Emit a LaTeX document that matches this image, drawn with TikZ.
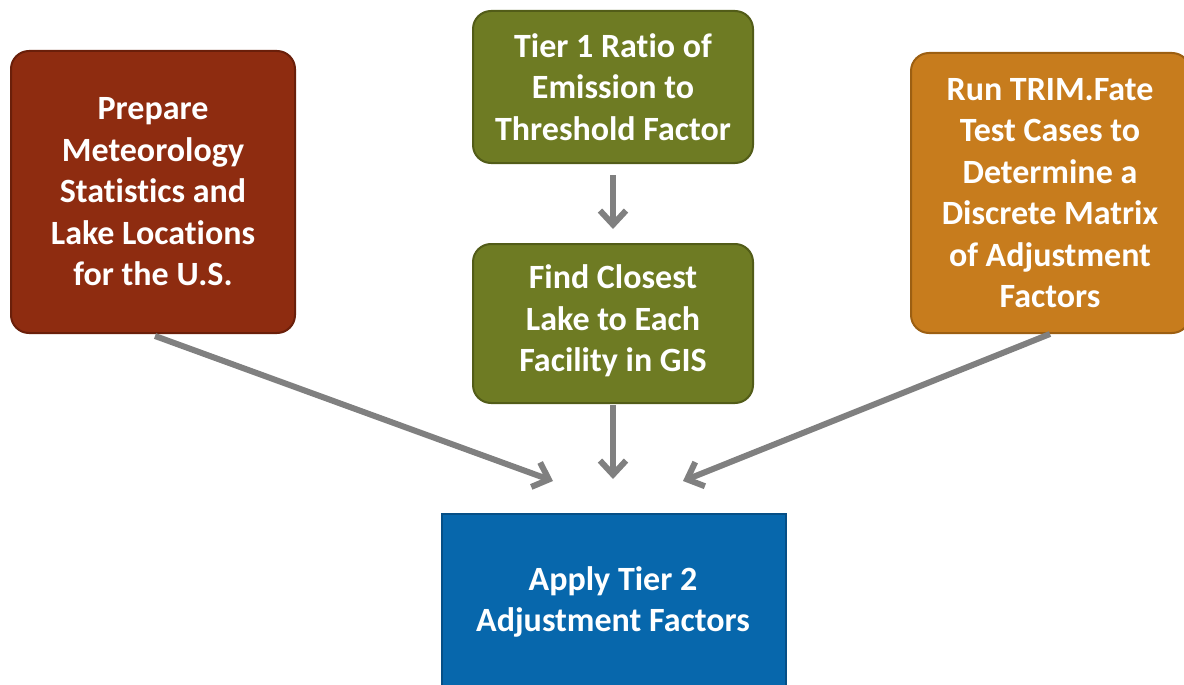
\documentclass[tikz,border=0pt]{standalone}
\usepackage{fontspec}
\setmainfont[Ligatures={NoCommon}]{Carlito}
\usetikzlibrary{arrows.meta}
\definecolor{brick}{HTML}{8E2C10}
\definecolor{brickdark}{HTML}{6A1F0A}
\definecolor{olive}{HTML}{6E7B23}
\definecolor{olivedark}{HTML}{525C18}
\definecolor{amber}{HTML}{C77C1D}
\definecolor{amberdark}{HTML}{9C5F12}
\definecolor{ocean}{HTML}{0767AC}
\definecolor{oceandark}{HTML}{064F86}
\definecolor{arrowgray}{HTML}{808080}
\tikzset{
  box/.style={line width=2pt, inner sep=0pt, align=center, text=white,
    font=\fontsize{34}{41.5}\selectfont\bfseries},
  roundbox/.style={box, rounded corners=18pt},
  flow/.style={draw=arrowgray, line width=6pt,
    -{Straight Barb[length=14pt,width=26pt,line width=6pt]}},
}
\begin{document}
\begin{tikzpicture}[x=1pt,y=-1pt]
\useasboundingbox (0,0) rectangle (1184,685);
\begin{scope}
\clip (0,0) rectangle (1184,685);
% boxes
\draw[roundbox, fill=brick, draw=brickdark] (11,51) rectangle (295,333);
\node[box] (prep) at (153,192) {Prepare\\Meteorology\\Statistics and\\Lake Locations\\for the U.S.};

\draw[roundbox, fill=olive, draw=olivedark] (473,11) rectangle (753,163);
\node[box] (tier) at (613,87) {Tier 1 Ratio of\\Emission to\\Threshold Factor};

\draw[roundbox, fill=olive, draw=olivedark] (473,244) rectangle (753,403);
\node[box] (find) at (613,321) {Find Closest\\Lake to Each\\Facility in GIS};

\draw[roundbox, fill=amber, draw=amberdark] (911,53) rectangle (1190,333);
\node[box] (trim) at (1050,193) {Run TRIM.Fate\\Test Cases to\\Determine a\\Discrete Matrix\\of Adjustment\\Factors};

\draw[box, fill=ocean, draw=oceandark] (442,514) rectangle (786,700);
\node[box] (apply) at (613,602) {Apply Tier 2\\Adjustment Factors};
\end{scope}
% connector end points
\coordinate (tierB) at (613,175);
\coordinate (findT) at (613,229);
\coordinate (findB) at (613,405);
\coordinate (midT) at (613,479);
\coordinate (prepB) at (155,336);
\coordinate (leftT) at (553,481);
\coordinate (trimB) at (1050,334);
\coordinate (rightT) at (683,481);
% connectors
\draw[flow] (tierB) -- (findT);
\draw[flow] (findB) -- (midT);
\draw[flow] (prepB) -- (leftT);
\draw[flow] (trimB) -- (rightT);
\end{tikzpicture}
\end{document}
